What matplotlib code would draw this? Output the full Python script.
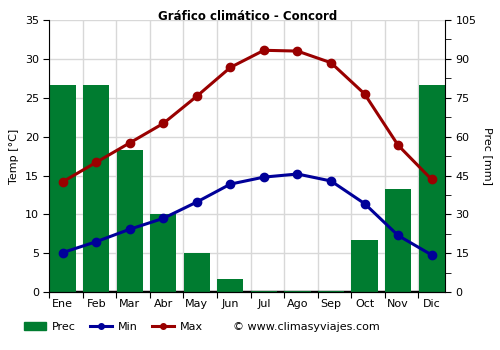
import matplotlib
matplotlib.use("Agg")
import matplotlib.pyplot as plt
from matplotlib.lines import Line2D
from matplotlib.patches import Patch

months = ["Ene", "Feb", "Mar", "Abr", "May", "Jun", "Jul", "Ago", "Sep", "Oct", "Nov", "Dic"]
prec = [80, 80, 55, 30, 15, 5, 0.3, 0.3, 0.5, 20, 40, 80]
t_min = [5.1, 6.5, 8.1, 9.5, 11.6, 13.9, 14.8, 15.2, 14.3, 11.4, 7.3, 4.8]
t_max = [14.2, 16.7, 19.2, 21.7, 25.2, 28.9, 31.1, 31.0, 29.5, 25.5, 18.9, 14.5]

green = "#007c30"
red = "#990000"
blue = "#000099"
grid = "#d8d8d8"

fig = plt.figure(figsize=(5, 3.5), dpi=100)
ax = fig.add_axes([0.0986, 0.165, 0.7914, 0.778])
ax2 = ax.twinx()

x = list(range(len(months)))

# precipitation on right axis, drawn behind the lines
ax2.axhline(0, color="black", lw=2.5, zorder=1)
ax2.bar(x, prec, width=0.78, color=green, zorder=2)
ax2.set_ylim(0, 105)
ax2.set_yticks(range(0, 106, 15))
ax2.set_yticks([7.5 + 15 * i for i in range(7)], minor=True)
ax2.set_ylabel("Prec [mm]", rotation=-90, labelpad=12, fontsize=8)

ax.set_zorder(ax2.get_zorder() + 1)
ax.patch.set_visible(False)
ax.plot(x, t_max, color=red, lw=2.2, marker="o", ms=6, zorder=5)
ax.plot(x, t_min, color=blue, lw=2.2, marker="o", ms=6, zorder=5)
ax.set_ylim(0, 35)
ax.set_yticks(range(0, 36, 5))
ax.set_xlim(-0.4, 11.4)
ax.set_xticks([i - 0.4 for i in x])
ax.set_xticklabels([])
ax.set_xticks(x, minor=True)
ax.set_xticklabels(months, minor=True)
ax.set_ylabel("Temp [°C]", fontsize=8, labelpad=4)

# grid on the back axes
for v in range(0, 36, 5):
    ax2.axhline(v * 3, color=grid, lw=1, zorder=0)
for i in x:
    ax2.axvline(i - 0.4, color=grid, lw=1, zorder=0)

for a in (ax, ax2):
    a.tick_params(which="both", labelsize=8, length=4, color="black")
    a.spines["top"].set_visible(False)
ax.spines["right"].set_visible(False)
ax2.spines["left"].set_visible(False)
ax.tick_params(axis="x", which="minor", length=0, pad=5)

fig.text(0.495, 0.935, "Gráfico climático - Concord", ha="center", va="bottom",
         fontsize=8.5, fontweight="bold")

handles = [
    Patch(color=green, label="Prec"),
    Line2D([], [], color=blue, lw=2.2, marker="o", ms=4, label="Min"),
    Line2D([], [], color=red, lw=2.2, marker="o", ms=4, label="Max"),
]
fig.legend(handles=handles, loc="center left", bbox_to_anchor=(0.048, 0.067), ncol=3,
           frameon=False, fontsize=8, handlelength=2.0, handletextpad=0.5,
           columnspacing=1.3, borderpad=0, borderaxespad=0)
fig.text(0.466, 0.067, "© www.climasyviajes.com", fontsize=8, va="center")

fig.savefig("out.png", dpi=100)
